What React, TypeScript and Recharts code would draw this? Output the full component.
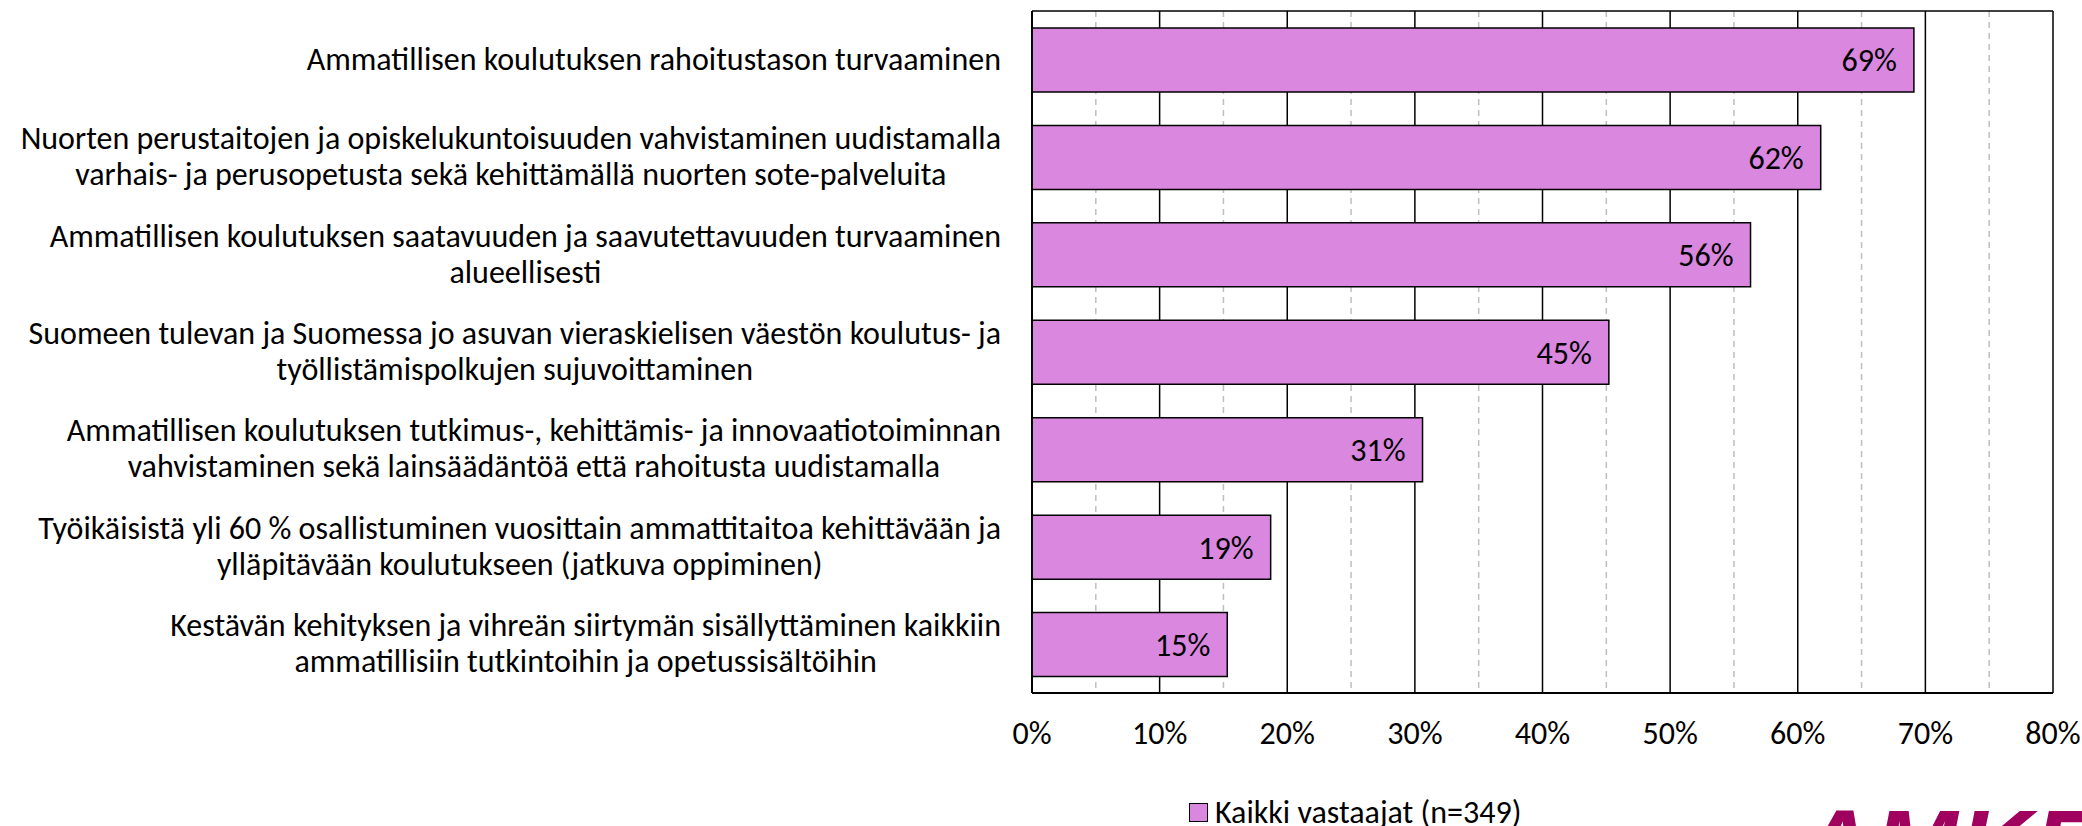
import React from "react";
import {
  Bar,
  BarChart,
  CartesianGrid,
  LabelList,
  XAxis,
  YAxis,
} from "recharts";

const CATEGORIES = [
  "Ammatillisen koulutuksen rahoitustason turvaaminen",
  "Nuorten perustaitojen ja opiskelukuntoisuuden vahvistaminen uudistamalla\nvarhais- ja perusopetusta sekä kehittämällä nuorten sote-palveluita",
  "Ammatillisen koulutuksen saatavuuden ja saavutettavuuden turvaaminen\nalueellisesti",
  "Suomeen tulevan ja Suomessa jo asuvan vieraskielisen väestön koulutus- ja\ntyöllistämispolkujen sujuvoittaminen",
  "Ammatillisen koulutuksen tutkimus-, kehittämis- ja innovaatiotoiminnan\nvahvistaminen sekä lainsäädäntöä että rahoitusta uudistamalla",
  "Työikäisistä yli 60 % osallistuminen vuosittain ammattitaitoa kehittävään ja\nylläpitävään koulutukseen (jatkuva oppiminen)",
  "Kestävän kehityksen ja vihreän siirtymän sisällyttäminen kaikkiin\nammatillisiin tutkintoihin ja opetussisältöihin",
];
const VALUES = [69.1, 61.8, 56.3, 45.2, 30.6, 18.7, 15.3];
const MAJOR_TICKS = [0, 10, 20, 30, 40, 50, 60, 70, 80];
const MINOR_TICKS = [5, 15, 25, 35, 45, 55, 65, 75];
const SERIES_NAME = "Kaikki vastaajat (n=349)";

const BAR_COLOR = "#DA87E0";
const FONT = "Carlito, Calibri, Lato, sans-serif";
const FONT_SIZE = 32;

const data = CATEGORIES.map((name, i) => ({ name, value: VALUES[i] }));

function CategoryTick({ x, y, payload }: { x?: number; y?: number; payload?: { value: string } }) {
  const right = (x ?? 0) - 31;
  return (
    <foreignObject x={0} y={(y ?? 0) - 48} width={right} height={96}>
      <div
        style={{
          display: "flex",
          justifyContent: "flex-end",
          alignItems: "center",
          height: "100%",
          fontFamily: FONT,
          fontSize: FONT_SIZE,
          lineHeight: "36px",
          color: "#000",
        }}
      >
        <div style={{ textAlign: "center", whiteSpace: "pre" }}>{payload?.value}</div>
      </div>
    </foreignObject>
  );
}

function PercentTick({ x, y, payload }: { x?: number; y?: number; payload?: { value: number } }) {
  return (
    <text x={x} y={(y ?? 0) + 51} textAnchor="middle" fontFamily={FONT} fontSize={FONT_SIZE} fill="#000">
      {`${payload?.value}%`}
    </text>
  );
}

export default function App() {
  return (
    <div
      style={{
        position: "absolute",
        left: 0,
        top: 0,
        width: 2082,
        height: 826,
        overflow: "hidden",
        background: "#fff",
      }}
    >
      <BarChart
        width={2082}
        height={826}
        data={data}
        layout="vertical"
        margin={{ top: 11, right: 29, bottom: 0, left: 0 }}
        barSize={64}
      >
        <CartesianGrid
          horizontal={false}
          verticalValues={MINOR_TICKS}
          stroke="#BFBFBF"
          strokeWidth={1.5}
          strokeDasharray="6 5"
        />
        <CartesianGrid
          stroke="#000"
          strokeWidth={1.5}
          horizontalCoordinatesGenerator={({ offset }: any) => [offset.top]}
        />
        <XAxis
          type="number"
          domain={[0, 80]}
          ticks={MAJOR_TICKS}
          interval={0}
          height={133}
          tickLine={false}
          tickSize={0}
          tickMargin={0}
          axisLine={{ stroke: "#000", strokeWidth: 2 }}
          tick={<PercentTick />}
        />
        <YAxis
          type="category"
          dataKey="name"
          width={1032}
          tickLine={false}
          tickSize={0}
          tickMargin={0}
          axisLine={{ stroke: "#000", strokeWidth: 2 }}
          tick={<CategoryTick />}
          interval={0}
        />
        <Bar dataKey="value" name={SERIES_NAME} fill={BAR_COLOR} stroke="#000" strokeWidth={1.5} isAnimationActive={false}>
          <LabelList
            dataKey="value"
            position="insideRight"
            offset={17}
            formatter={(v: any) => `${Math.round(Number(v))}%`}
            style={{ fontFamily: FONT, fontSize: FONT_SIZE, fill: "#000" }}
          />
        </Bar>
      </BarChart>

      <div
        style={{
          position: "absolute",
          left: 1189,
          top: 794,
          display: "flex",
          alignItems: "center",
          height: 36,
          fontFamily: FONT,
          fontSize: FONT_SIZE,
          color: "#000",
          whiteSpace: "nowrap",
        }}
      >
        <span
          style={{
            display: "inline-block",
            boxSizing: "border-box",
            width: 19,
            height: 19,
            background: BAR_COLOR,
            border: "1.5px solid #000",
            marginRight: 7,
          }}
        />
        {SERIES_NAME}
      </div>

      <svg style={{ position: "absolute", left: 0, top: 0 }} width={2082} height={826}>
        <text
          x={1800}
          y={880}
          fontFamily="'Liberation Sans', Arial, sans-serif"
          fontSize={100}
          fontWeight={700}
          fontStyle="italic"
          letterSpacing={2}
          fill="#A0005E"
        >
          AMKE
        </text>
      </svg>
    </div>
  );
}
